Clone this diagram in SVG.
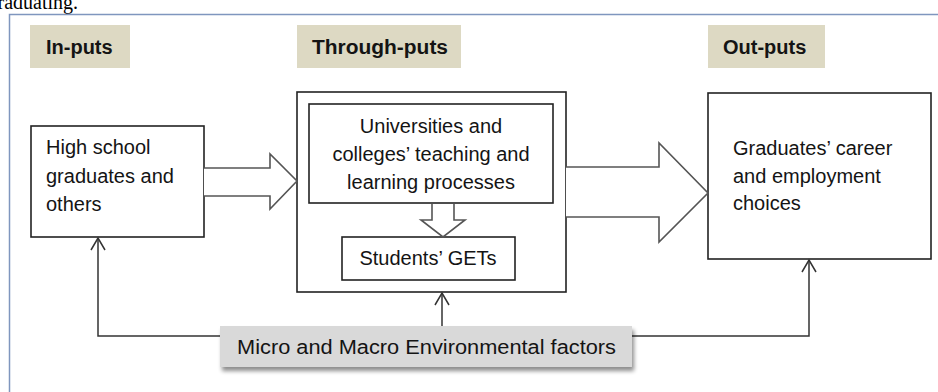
<svg xmlns="http://www.w3.org/2000/svg" width="938" height="392" viewBox="0 0 938 392">
<defs>
<style>
.t{font-family:"Liberation Sans",Arial,sans-serif;font-size:20px;fill:#141414}
.h{font-family:"Liberation Sans",Arial,sans-serif;font-size:20px;font-weight:bold;fill:#141414}
.hdr{fill:#DDD9C3}
.box{fill:#fff;stroke:#222;stroke-width:1.6}
.frame{fill:none;stroke:#222;stroke-width:1.6}
.big{fill:#fff;stroke:#555;stroke-width:1.6;stroke-linejoin:miter}
.con{fill:none;stroke:#333;stroke-width:1.5}
</style>
<marker id="ah" viewBox="-14 -9 16 18" refX="0" refY="0" markerWidth="16" markerHeight="18" markerUnits="userSpaceOnUse" orient="auto" overflow="visible">
<path d="M-12,-7 L0,0 L-12,7" fill="none" stroke="#333" stroke-width="1.5"/>
</marker>
<filter id="sh" x="-5%" y="-20%" width="115%" height="160%">
<feGaussianBlur in="SourceAlpha" stdDeviation="2"/>
<feOffset dx="2" dy="4"/>
<feComponentTransfer><feFuncA type="linear" slope="0.45"/></feComponentTransfer>
<feMerge><feMergeNode/><feMergeNode in="SourceGraphic"/></feMerge>
</filter>
</defs>
<rect width="938" height="392" fill="#fff"/>
<text x="78" y="9" text-anchor="end" font-family="'Liberation Serif','Times New Roman',serif" font-size="20" fill="#000">graduating.</text>
<rect x="9.5" y="14.5" width="940" height="400" fill="none" stroke="#7F96BE" stroke-width="1.5"/>

<g id="hdr-in"><rect class="hdr" x="30" y="25" width="100" height="43"/><text class="h" x="46" y="54">In-puts</text></g>
<g id="hdr-through"><rect class="hdr" x="297" y="25" width="164" height="43"/><text class="h" x="312" y="54" textLength="136" lengthAdjust="spacingAndGlyphs">Through-puts</text></g>
<g id="hdr-out"><rect class="hdr" x="708" y="25" width="117" height="43"/><text class="h" x="723" y="54">Out-puts</text></g>

<g id="inputs"><rect class="box" x="31" y="126" width="173" height="111"/>
<text class="t" x="46" y="154">High school</text>
<text class="t" x="46" y="183">graduates and</text>
<text class="t" x="46" y="211">others</text></g>

<g id="throughputs"><rect class="frame" x="297" y="92" width="269" height="200"/></g>

<g id="teaching"><rect class="box" x="309" y="104" width="244" height="99"/>
<text class="t" text-anchor="middle" x="431" y="133">Universities and</text>
<text class="t" text-anchor="middle" x="431" y="161">colleges’ teaching and</text>
<text class="t" text-anchor="middle" x="431" y="189">learning processes</text></g>

<g id="gets"><rect class="box" x="342" y="237" width="173" height="43"/>
<text class="t" text-anchor="middle" x="428" y="265">Students’ GETs</text></g>

<g id="outputs"><rect class="box" x="708" y="93" width="223" height="166"/>
<text class="t" x="733" y="155">Graduates’ career</text>
<text class="t" x="733" y="183">and employment</text>
<text class="t" x="733" y="210">choices</text></g>

<g id="connectors">
<path class="big" d="M204,168 L270,168 L270,154 L297,181 L270,209 L270,196 L204,196"/>
<path class="big" d="M566,167 L659,167 L659,143 L708,193 L659,242 L659,217 L566,217"/>
<path class="big" stroke-width="2" d="M432,204 L432,220 L421,220 L443,237 L465,220 L454,220 L454,204"/>
<path class="con" d="M220,336 L98,336 L98,238" marker-end="url(#ah)"/>
<path class="con" d="M632,336 L809,336 L809,260" marker-end="url(#ah)"/>
<path class="con" d="M442,326 L442,293" marker-end="url(#ah)"/>
</g>

<g id="environment"><rect x="220" y="326" width="412" height="41" fill="#D9D9D9" filter="url(#sh)"/>
<text class="t" x="237" y="354" font-size="22" textLength="379" lengthAdjust="spacingAndGlyphs">Micro and Macro Environmental factors</text></g>
</svg>
